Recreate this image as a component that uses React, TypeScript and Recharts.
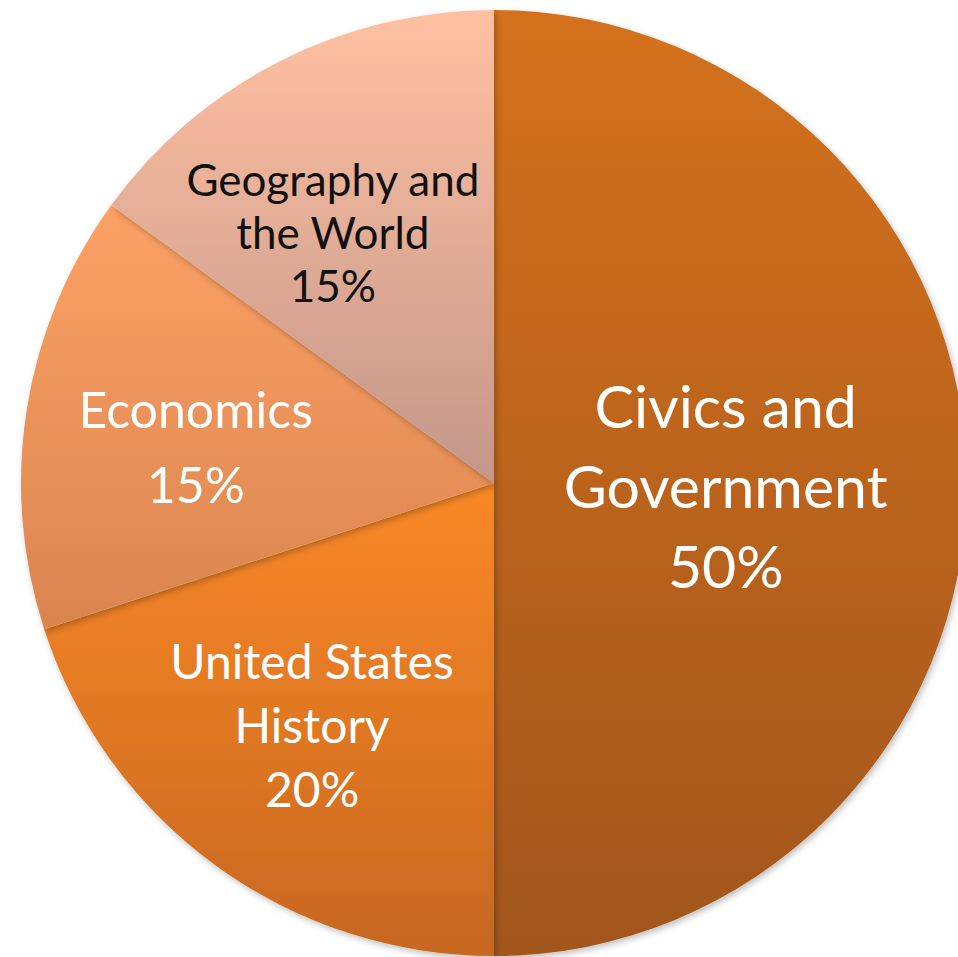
import { PieChart, Pie, Cell } from "recharts";

const subjects = ["Civics and Government", "United States History", "Economics", "Geography and the World"];
const shares = [50, 20, 15, 15];
const labelLines = [
  ["Civics and", "Government", "50%"],
  ["United States", "History", "20%"],
  ["Economics", "15%"],
  ["Geography and", "the World", "15%"],
];

const gradients = [
  ["#D4711F", "#A2561A"],
  ["#FA8928", "#C7671F"],
  ["#FCA165", "#DA854F"],
  ["#FFC0A1", "#C3978A"],
];
const textColors = ["#ffffff", "#ffffff", "#ffffff", "#111111"];
const fontSizes = [59, 48, 50, 44];
const lineGaps = [80, 64, 75, 53];
// small nudges so labels sit where the original placed them
const labelRadius = [0.49, 0.64, 0.63, 0.62];
const nudgeX = [0, -4, -4, -28];
const nudgeY = [2, -4, 10, 10];

const data = subjects.map((name, i) => ({ name, value: shares[i] }));

const RADIAN = Math.PI / 180;

const renderLabel = (props: any) => {
  const { cx, cy, midAngle, outerRadius, index } = props;
  const r = outerRadius * labelRadius[index];
  const x = cx + r * Math.cos(-midAngle * RADIAN) + nudgeX[index];
  const y = cy + r * Math.sin(-midAngle * RADIAN) + nudgeY[index];
  const lines = labelLines[index];
  const gap = lineGaps[index];
  const top = y - ((lines.length - 1) * gap) / 2;
  return (
    <text
      x={x}
      y={top}
      textAnchor="middle"
      dominantBaseline="central"
      fill={textColors[index]}
      fontSize={fontSizes[index]}
      fontFamily="Lato, 'Open Sans', sans-serif"
    >
      {lines.map((line, i) => (
        <tspan key={i} x={x} y={top + i * gap}>
          {line}
        </tspan>
      ))}
    </text>
  );
};

export default function App() {
  return (
    <div style={{ position: "absolute", left: 0, top: 0, width: 958, height: 957, background: "#fff" }}>
      <PieChart width={958} height={957}>
        <defs>
          {gradients.map(([from, to], i) => (
            <linearGradient key={i} id={`slice${i}`} x1="0" y1="0" x2="0" y2="1">
              <stop offset="0%" stopColor={from} />
              <stop offset="100%" stopColor={to} />
            </linearGradient>
          ))}
          <filter id="pieShadow" x="-5%" y="-5%" width="110%" height="110%">
            <feDropShadow dx="2" dy="3" stdDeviation="3" floodColor="#000" floodOpacity="0.25" />
          </filter>
        </defs>
        <Pie
          data={data}
          dataKey="value"
          nameKey="name"
          cx={489}
          cy={478}
          outerRadius={473}
          startAngle={90}
          endAngle={-270}
          stroke="none"
          labelLine={false}
          label={renderLabel}
          isAnimationActive={false}
          style={{ filter: "url(#pieShadow)" }}
        >
          {data.map((d, i) => (
            <Cell key={d.name} fill={`url(#slice${i})`} />
          ))}
        </Pie>
      </PieChart>
    </div>
  );
}
